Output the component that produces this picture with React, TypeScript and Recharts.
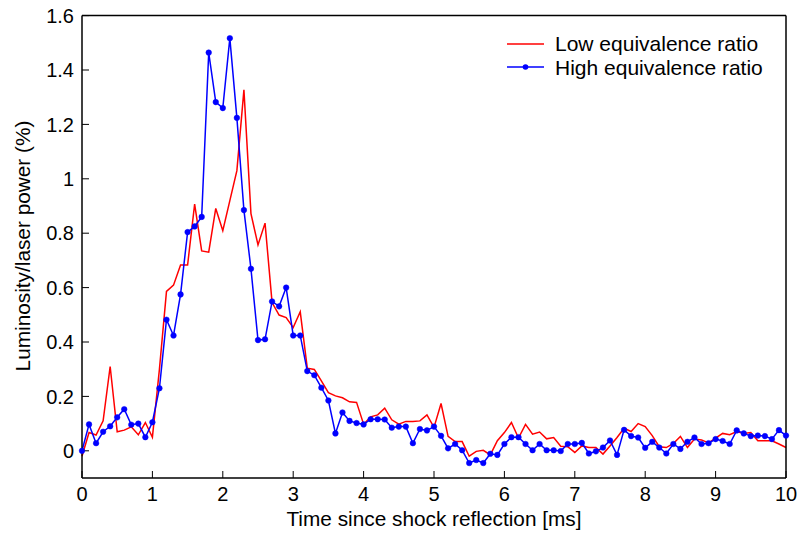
import { LineChart, Line, XAxis, YAxis, Legend } from "recharts";

const TIME = [
  0, 0.1, 0.2, 0.3, 0.4, 0.5, 0.6, 0.7, 0.8, 0.9,
  1, 1.1, 1.2, 1.3, 1.4, 1.5, 1.6, 1.7, 1.8, 1.9,
  2, 2.1, 2.2, 2.3, 2.4, 2.5, 2.6, 2.7, 2.8, 2.9,
  3, 3.1, 3.2, 3.3, 3.4, 3.5, 3.6, 3.7, 3.8, 3.9,
  4, 4.1, 4.2, 4.3, 4.4, 4.5, 4.6, 4.7, 4.8, 4.9,
  5, 5.1, 5.2, 5.3, 5.4, 5.5, 5.6, 5.7, 5.8, 5.9,
  6, 6.1, 6.2, 6.3, 6.4, 6.5, 6.6, 6.7, 6.8, 6.9,
  7, 7.1, 7.2, 7.3, 7.4, 7.5, 7.6, 7.7, 7.8, 7.9,
  8, 8.1, 8.2, 8.3, 8.4, 8.5, 8.6, 8.7, 8.8, 8.9,
  9, 9.1, 9.2, 9.3, 9.4, 9.5, 9.6, 9.7, 9.8, 9.9,
  10,
];

const LOW_RATIO = [
  -0.02, 0.067, 0.058, 0.11, 0.31, 0.07, 0.076, 0.088, 0.059, 0.104,
  0.05, 0.3, 0.586, 0.609, 0.683, 0.683, 0.907, 0.735, 0.73, 0.891,
  0.809, 0.92, 1.03, 1.327, 0.872, 0.757, 0.837, 0.545, 0.499, 0.49,
  0.453, 0.511, 0.304, 0.299, 0.257, 0.214, 0.202, 0.195, 0.18, 0.178,
  0.098, 0.125, 0.132, 0.157, 0.114, 0.098, 0.108, 0.108, 0.11, 0.132,
  0.086, 0.174, 0.053, 0.034, 0.034, -0.02, -0.002, 0.002, -0.015, 0.037,
  0.067, 0.104, 0.047, 0.097, 0.061, 0.069, 0.044, 0.049, 0.017, 0.015,
  -0.006, 0.018, 0.012, 0.012, -0.012, 0.018, 0.049, 0.083, 0.071, 0.1,
  0.089, 0.056, 0.015, 0.012, 0.027, 0.053, 0.012, 0.043, 0.04, 0.029,
  0.047, 0.064, 0.059, 0.071, 0.064, 0.067, 0.037, 0.037, 0.037, 0.025,
  0.012,
];

const HIGH_RATIO = [
  0.0, 0.097, 0.028, 0.07, 0.09, 0.123, 0.153, 0.096, 0.1, 0.05,
  0.105, 0.23, 0.482, 0.424, 0.575, 0.804, 0.825, 0.86, 1.464, 1.282,
  1.26, 1.517, 1.224, 0.885, 0.669, 0.407, 0.41, 0.549, 0.531, 0.6,
  0.424, 0.424, 0.293, 0.278, 0.232, 0.185, 0.064, 0.141, 0.11, 0.102,
  0.097, 0.116, 0.116, 0.115, 0.085, 0.089, 0.089, 0.028, 0.08, 0.075,
  0.089, 0.055, 0.009, 0.025, 0.002, -0.045, -0.034, -0.045, -0.011, -0.015,
  0.025, 0.05, 0.05, 0.025, 0.002, 0.025, 0.002, 0.002, -0.001, 0.025,
  0.025, 0.029, -0.01, -0.002, 0.012, 0.038, -0.015, 0.077, 0.054, 0.049,
  0.011, 0.033, 0.012, -0.01, 0.025, 0.007, 0.033, 0.049, 0.025, 0.028,
  0.043, 0.036, 0.025, 0.075, 0.064, 0.054, 0.056, 0.054, 0.043, 0.076,
  0.056,
];

const X_TICKS = [0, 1, 2, 3, 4, 5, 6, 7, 8, 9, 10];
const Y_TICKS = [0, 0.2, 0.4, 0.6, 0.8, 1, 1.2, 1.4, 1.6];

const SERIES = [
  { key: "low", label: "Low equivalence ratio", color: "#ff0000", dot: false },
  { key: "high", label: "High equivalence ratio", color: "#0000ff", dot: true },
];

const FONT = "'Liberation Sans', Arial, Helvetica, sans-serif";
const tickStyle = { fill: "#000", fontSize: 20, fontFamily: FONT };
const axisStroke = { stroke: "#000", strokeWidth: 1.5 };

const data = TIME.map((t, i) => ({ t, low: LOW_RATIO[i], high: HIGH_RATIO[i] }));

function LegendBox() {
  return (
    <div style={{ fontFamily: FONT, fontSize: 21, color: "#000" }}>
      {SERIES.map((s) => (
        <div key={s.key} style={{ display: "flex", alignItems: "center", height: 23.5 }}>
          <svg width={48} height={12} style={{ flex: "none" }}>
            <line x1={0} y1={6} x2={37} y2={6} stroke={s.color} strokeWidth={1.5} />
            {s.dot && <circle cx={18.5} cy={6} r={2.8} fill={s.color} />}
          </svg>
          <span style={{ lineHeight: "23.5px", whiteSpace: "nowrap" }}>{s.label}</span>
        </div>
      ))}
    </div>
  );
}

export default function App() {
  return (
    <div style={{ width: 798, height: 540, background: "#fff" }}>
      <style>{"body{margin:0}"}</style>
      <LineChart width={798} height={540} data={data} margin={{ top: 14.6, right: 11, bottom: 0, left: 20 }}>
        <XAxis
          dataKey="t"
          type="number"
          domain={[0, 10]}
          ticks={X_TICKS}
          interval={0}
          height={62}
          tickSize={-7}
          tickMargin={16}
          tick={tickStyle}
          axisLine={axisStroke}
          tickLine={{ stroke: "#000", strokeWidth: 1 }}
          label={{
            content: () => (
              <text x={434} y={526} textAnchor="middle" fontSize={20.8} fontFamily={FONT} fill="#000">
                Time since shock reflection [ms]
              </text>
            ),
          }}
        />
        <XAxis
          xAxisId="top"
          orientation="top"
          type="number"
          domain={[0, 10]}
          ticks={X_TICKS}
          interval={0}
          height={1}
          tickSize={-7}
          tick={false}
          axisLine={axisStroke}
          tickLine={{ stroke: "#000", strokeWidth: 1 }}
        />
        <YAxis
          type="number"
          domain={[-0.1, 1.6]}
          ticks={Y_TICKS}
          interval={0}
          width={62}
          tickSize={-7}
          tickMargin={15}
          tick={tickStyle}
          tickFormatter={(v: number) => String(v)}
          axisLine={axisStroke}
          tickLine={{ stroke: "#000", strokeWidth: 1 }}
          label={{
            content: () => (
              <text
                x={22}
                y={246}
                transform="rotate(-90 22 246)"
                textAnchor="middle"
                dominantBaseline="central"
                fontSize={20.8}
                fontFamily={FONT}
                fill="#000"
              >
                Luminosity/laser power (%)
              </text>
            ),
          }}
        />
        <YAxis
          yAxisId="right"
          orientation="right"
          type="number"
          domain={[-0.1, 1.6]}
          ticks={Y_TICKS}
          interval={0}
          width={1}
          tickSize={-7}
          tick={false}
          axisLine={axisStroke}
          tickLine={{ stroke: "#000", strokeWidth: 1 }}
        />
        <Legend
          verticalAlign="middle"
          align="center"
          wrapperStyle={{ top: 32, left: 507, width: 285 }}
          content={() => <LegendBox />}
        />
        <Line
          dataKey="low"
          type="linear"
          stroke="#ff0000"
          strokeWidth={1.5}
          dot={false}
          isAnimationActive={false}
        />
        <Line
          dataKey="high"
          type="linear"
          stroke="#0000ff"
          strokeWidth={1.5}
          dot={{ r: 2.8, fill: "#0000ff", stroke: "#0000ff", strokeWidth: 0.5 }}
          activeDot={false}
          isAnimationActive={false}
        />
      </LineChart>
    </div>
  );
}
